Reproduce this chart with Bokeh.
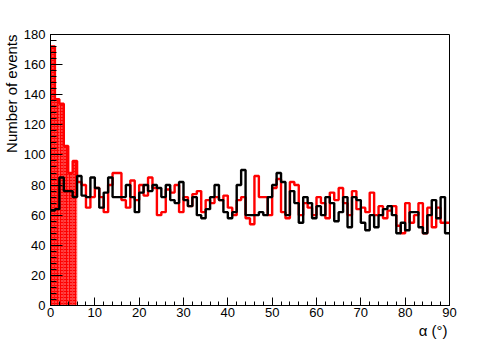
from bokeh.plotting import figure
from bokeh.models import Range1d, Title, FixedTicker
from bokeh.embed import file_html
from bokeh.resources import INLINE

# bin edges (degrees) and counts
edges = list(range(0, 91))
red_counts = [
    172, 137, 134, 106, 88, 96, 82, 80, 65, 72,
    78, 72, 62, 80, 88, 88, 70, 65, 83, 70,
    80, 73, 85, 78, 60, 62, 77, 75, 80, 62,
    72, 66, 74, 76, 62, 70, 68, 72, 70, 73,
    65, 60, 70, 72, 58, 54, 86, 72, 72, 60,
    78, 84, 62, 58, 82, 80, 60, 68, 65, 60,
    72, 68, 58, 75, 70, 78, 68, 60, 76, 64,
    65, 62, 75, 60, 66, 58, 63, 66, 53, 48,
    68, 55, 60, 68, 48, 65, 52, 65, 55, 55,
]
black_counts = [
    63, 64, 85, 76, 76, 72, 86, 73, 72, 85,
    78, 65, 75, 85, 72, 72, 72, 80, 72, 62,
    75, 80, 76, 80, 78, 72, 80, 70, 68, 82,
    70, 66, 72, 60, 58, 64, 72, 80, 70, 62,
    58, 62, 80, 90, 60, 60, 60, 62, 60, 72,
    80, 88, 82, 60, 76, 68, 55, 72, 68, 58,
    66, 60, 72, 68, 56, 62, 72, 52, 72, 70,
    55, 50, 60, 52, 60, 64, 66, 60, 48, 55,
    50, 62, 62, 52, 48, 60, 70, 58, 72, 48,
]
n_fill = 6  # bins 0-6 deg shown as hatched region
x_major = list(range(0, 91, 10))
x_minor = list(range(0, 91, 2))
y_major = list(range(0, 181, 20))
y_minor = list(range(0, 181, 4))

FONT = "Liberation Sans"

p = figure(width=490, height=339, x_range=Range1d(0, 90), y_range=Range1d(0, 180),
           output_backend="svg", toolbar_location=None,
           min_border_left=49, min_border_right=41, min_border_top=34, min_border_bottom=34)
p.xgrid.visible = False
p.ygrid.visible = False
p.outline_line_color = "black"
p.outline_line_width = 1
p.background_fill_color = "white"
p.border_fill_color = "white"

for ax, maj, mnr in ((p.xaxis[0], x_major, x_minor), (p.yaxis[0], y_major, y_minor)):
    ax.ticker = FixedTicker(ticks=maj, minor_ticks=mnr)
    ax.major_tick_out = 0
    ax.minor_tick_out = 0
    ax.axis_line_color = "black"
    ax.major_tick_line_color = "black"
    ax.minor_tick_line_color = "black"
    ax.major_label_text_font = FONT
    ax.major_label_text_font_size = "13px"
    ax.major_label_text_color = "black"
p.xaxis.major_tick_in = 8
p.xaxis.minor_tick_in = 4
p.yaxis.major_tick_in = 12
p.yaxis.minor_tick_in = 6
p.xaxis.major_label_standoff = 2
p.yaxis.major_label_standoff = 5

# axis titles, aligned to the far end of each axis
p.add_layout(Title(text="Number of events", align="right", standoff=1,
                   text_font=FONT, text_font_size="15px", text_font_style="normal",
                   text_color="black"), "left")
p.add_layout(Title(text="α (°)", align="right", standoff=0, offset=2,
                   text_font=FONT, text_font_size="15px", text_font_style="normal",
                   text_color="black"), "below")

# hatched region under the red histogram for the first bins
p.quad(left=edges[:n_fill], right=edges[1:n_fill + 1], top=red_counts[:n_fill], bottom=0,
       fill_color="red", line_color=None, hatch_pattern="dot", hatch_color="#ffb4b4",
       hatch_alpha=0.9, hatch_scale=3, hatch_weight=1)
# faint outline closing the hatched region
p.segment(x0=[edges[n_fill]], y0=[0], x1=[edges[n_fill]], y1=[red_counts[n_fill - 1]],
          line_color="#ffc8c8", line_width=1)

red_y = red_counts + [red_counts[-1]]
black_y = black_counts + [black_counts[-1]]
p.step(x=edges, y=red_y, mode="after", line_color="red", line_width=2.4)
p.step(x=edges, y=black_y, mode="after", line_color="black", line_width=2.4)

open("out.html", "w").write(file_html(p, INLINE))
